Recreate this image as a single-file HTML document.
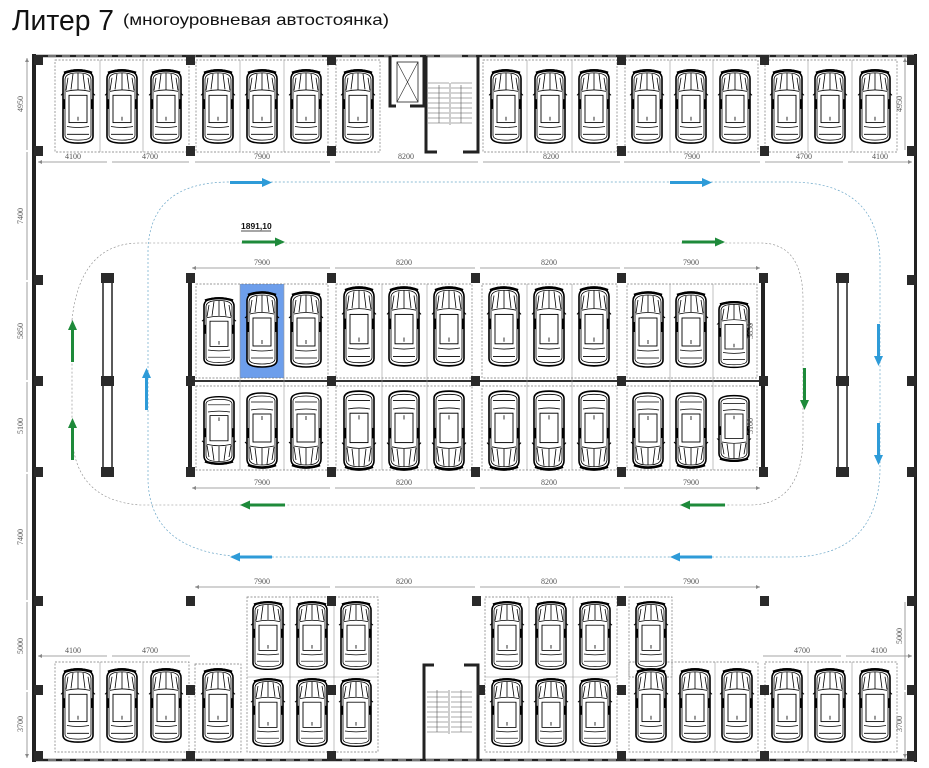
<!DOCTYPE html>
<html><head><meta charset="utf-8"><style>
html,body{margin:0;padding:0;background:#fff;}
svg{display:block;font-family:"Liberation Serif",serif;}
.d{font-size:8px;fill:#555;text-anchor:middle;}
.dl{stroke:#888;stroke-width:0.8;fill:none;}
.cell{fill:none;stroke:#777;stroke-width:0.7;stroke-dasharray:2 1.5;}
.sep{stroke:#999;stroke-width:0.6;}
.col{fill:#2a2a2a;}
</style></head><body>
<svg width="929" height="768" viewBox="0 0 929 768" xmlns="http://www.w3.org/2000/svg">
<defs>
<symbol id="car" viewBox="-16 -40 32 80" overflow="visible" preserveAspectRatio="none">
 <path d="M-15,-29 Q-15,-38 0,-38 Q15,-38 15,-29 L15,30 Q15,37 0,37 Q-15,37 -15,30 Z" fill="#fff" stroke="#000" stroke-width="1.6"/>
 <path d="M-13,-28 Q-13,-35 0,-35 Q13,-35 13,-28 L13,29 Q13,34 0,34 Q-13,34 -13,29 Z" fill="none" stroke="#000" stroke-width="0.8"/>
 <path d="M-14,-35 Q0,-40 14,-35" fill="none" stroke="#000" stroke-width="2.6"/>
 <path d="M-12,-16 Q0,-19 12,-16 M-5,-34 L-7,-18 M5,-34 L7,-18 M0,-35 L0,-18 M-10,-30 L-12,-17 M10,-30 L12,-17" fill="none" stroke="#000" stroke-width="0.8"/>
 <rect x="-9" y="-12" width="18" height="28" fill="none" stroke="#000" stroke-width="0.9"/>
 <path d="M-11,20 Q0,22 11,20 M-11,28 L11,28 M0,10 L0,14" fill="none" stroke="#000" stroke-width="0.8"/>
 <path d="M-15,-14 L-17,-12 M15,-14 L17,-12" stroke="#000" stroke-width="1"/>
 <rect x="-15" y="-8" width="2" height="10" fill="#000"/><rect x="13" y="-8" width="2" height="10" fill="#000"/>
</symbol>
<marker id="ah" viewBox="0 0 6 6" refX="6" refY="3" markerWidth="5" markerHeight="5" orient="auto-start-reverse"><path d="M0,0 L6,3 L0,6 Z" fill="#888"/></marker>
</defs>

<!-- title -->
<text x="12" y="30" font-family="Liberation Sans Narrow, Liberation Sans, sans-serif" font-size="29" textLength="102" lengthAdjust="spacingAndGlyphs" fill="#111">Литер 7</text>
<text x="123" y="25" font-family="Liberation Sans Narrow, Liberation Sans, sans-serif" font-size="16" textLength="266" lengthAdjust="spacingAndGlyphs" fill="#111">(многоуровневая автостоянка)</text>

<!-- outer walls -->
<rect x="32" y="54" width="4" height="708" fill="#222"/>
<rect x="914" y="54" width="3" height="708" fill="#222"/>
<line x1="34" y1="56" x2="916" y2="56" stroke="#222" stroke-width="2.5"/>
<line x1="34" y1="56" x2="916" y2="56" stroke="#fff" stroke-width="0.8" stroke-dasharray="8 6"/>
<line x1="34" y1="760" x2="916" y2="760" stroke="#222" stroke-width="2.5"/>
<line x1="34" y1="760" x2="916" y2="760" stroke="#fff" stroke-width="0.8" stroke-dasharray="8 6"/>

<!-- top row cells -->
<g>
<rect class="cell" x="55" y="60" width="134" height="92"/>
<line class="sep" x1="100" y1="60" x2="100" y2="152"/><line class="sep" x1="143" y1="60" x2="143" y2="152"/>
<rect class="cell" x="196" y="60" width="132" height="92"/>
<line class="sep" x1="240" y1="60" x2="240" y2="152"/><line class="sep" x1="284" y1="60" x2="284" y2="152"/>
<rect class="cell" x="336" y="60" width="44" height="92"/>
<rect class="cell" x="483" y="60" width="134" height="92"/>
<line class="sep" x1="527" y1="60" x2="527" y2="152"/><line class="sep" x1="572" y1="60" x2="572" y2="152"/>
<rect class="cell" x="625" y="60" width="133" height="92"/>
<line class="sep" x1="670" y1="60" x2="670" y2="152"/><line class="sep" x1="713" y1="60" x2="713" y2="152"/>
<rect class="cell" x="765" y="60" width="132" height="92"/>
<line class="sep" x1="808" y1="60" x2="808" y2="152"/><line class="sep" x1="852" y1="60" x2="852" y2="152"/>
</g>
<g>
<use href="#car" x="62" y="68" width="32" height="78"/><use href="#car" x="106" y="68" width="32" height="78"/><use href="#car" x="150" y="68" width="32" height="78"/>
<use href="#car" x="202" y="68" width="32" height="78"/><use href="#car" x="246" y="68" width="32" height="78"/><use href="#car" x="290" y="68" width="32" height="78"/>
<use href="#car" x="342" y="68" width="32" height="78"/>
<use href="#car" x="490" y="68" width="32" height="78"/><use href="#car" x="534" y="68" width="32" height="78"/><use href="#car" x="578" y="68" width="32" height="78"/>
<use href="#car" x="631" y="68" width="32" height="78"/><use href="#car" x="675" y="68" width="32" height="78"/><use href="#car" x="719" y="68" width="32" height="78"/>
<use href="#car" x="771" y="68" width="32" height="78"/><use href="#car" x="814" y="68" width="32" height="78"/><use href="#car" x="859" y="68" width="32" height="78"/>
</g>

<!-- elevator + stairs top -->
<g stroke="#222" fill="none">
<path d="M390,56 L390,106 L396,106 M410,106 L424,106 L424,56" stroke-width="3"/>
<rect x="397" y="62" width="21" height="40" stroke-width="0.8"/>
<path d="M397,62 L418,102 M418,62 L397,102" stroke-width="0.6"/>
<path d="M426,56 L426,152 L437,152 M463,152 L478,152 L478,56" stroke-width="3"/>
<line x1="440" y1="56" x2="462" y2="56" stroke="#aaa" stroke-width="3"/>
<g stroke-width="0.6" stroke="#555">
<path d="M428,83 L449,83 M428,88 L449,88 M428,93 L449,93 M428,98 L449,98 M428,103 L449,103 M428,108 L449,108 M428,113 L449,113 M428,118 L449,118 M428,123 L449,123"/>
<path d="M451,83 L472,83 M451,88 L472,88 M451,93 L472,93 M451,98 L472,98 M451,103 L472,103 M451,108 L472,108 M451,113 L472,113 M451,118 L472,118 M451,123 L472,123"/>
<path d="M450,83 L450,125 M439,85 L439,123 M461,85 L461,123"/>
</g>
</g>

<!-- middle block -->
<g>
<rect x="188" y="276" width="4" height="200" fill="#222"/>
<rect x="761" y="276" width="4" height="200" fill="#222"/>
<line x1="190" y1="381" x2="763" y2="381" stroke="#333" stroke-width="2"/>
<rect class="cell" x="240" y="284" width="44" height="94" style="fill:#6d9eeb;stroke:none"/>
<rect class="cell" x="196" y="284" width="132" height="94"/>
<rect class="cell" x="336" y="284" width="136" height="94"/>
<rect class="cell" x="482" y="284" width="135" height="94"/>
<rect class="cell" x="627" y="284" width="130" height="94"/>
<rect class="cell" x="196" y="386" width="132" height="84"/>
<rect class="cell" x="336" y="386" width="136" height="84"/>
<rect class="cell" x="482" y="386" width="135" height="84"/>
<rect class="cell" x="627" y="386" width="130" height="84"/>
<path class="sep" d="M240,284 V470 M284,284 V470 M382,284 V470 M427,284 V470 M527,284 V470 M572,284 V470 M670,284 V470 M713,284 V470"/>
</g>
<g>
<use href="#car" x="203" y="296" width="32" height="72"/><use href="#car" x="246" y="290" width="32" height="80"/><use href="#car" x="290" y="290" width="32" height="80"/>
<use href="#car" x="343" y="285" width="32" height="84"/><use href="#car" x="388" y="285" width="32" height="84"/><use href="#car" x="433" y="285" width="32" height="84"/>
<use href="#car" x="488" y="285" width="32" height="84"/><use href="#car" x="533" y="285" width="32" height="84"/><use href="#car" x="578" y="285" width="32" height="84"/>
<use href="#car" x="632" y="290" width="32" height="80"/><use href="#car" x="675" y="290" width="32" height="80"/><use href="#car" x="718" y="300" width="32" height="70"/>
<g transform="translate(0,858) scale(1,-1)">
<use href="#car" x="203" y="392" width="32" height="72"/><use href="#car" x="246" y="388" width="32" height="80"/><use href="#car" x="290" y="388" width="32" height="80"/>
<use href="#car" x="343" y="386" width="32" height="84"/><use href="#car" x="388" y="386" width="32" height="84"/><use href="#car" x="433" y="386" width="32" height="84"/>
<use href="#car" x="488" y="386" width="32" height="84"/><use href="#car" x="533" y="386" width="32" height="84"/><use href="#car" x="578" y="386" width="32" height="84"/>
<use href="#car" x="632" y="388" width="32" height="80"/><use href="#car" x="675" y="388" width="32" height="80"/><use href="#car" x="718" y="395" width="32" height="70"/>
</g>
</g>

<!-- side bars -->
<rect x="103" y="280" width="9" height="192" fill="#fff" stroke="#222" stroke-width="1.5"/>
<rect x="838" y="280" width="9" height="192" fill="#fff" stroke="#222" stroke-width="1.5"/>

<!-- bottom area cells -->
<g>
<rect class="cell" x="247" y="597" width="131" height="155"/>
<line class="sep" x1="247" y1="677" x2="378" y2="677"/>
<rect class="cell" x="485" y="597" width="132" height="155"/>
<line class="sep" x1="485" y1="677" x2="617" y2="677"/>
<rect class="cell" x="629" y="597" width="43" height="80"/>
<rect class="cell" x="629" y="662" width="129" height="90"/>
<rect class="cell" x="55" y="662" width="134" height="90"/>
<rect class="cell" x="195" y="664" width="46" height="88"/>
<rect class="cell" x="765" y="662" width="132" height="90"/>
<path class="sep" d="M290,597 V752 M334,597 V752 M529,597 V752 M573,597 V752 M672,662 V752 M715,662 V752 M100,662 V752 M143,662 V752 M808,662 V752 M852,662 V752"/>
</g>
<g>
<use href="#car" x="252" y="600" width="32" height="72"/><use href="#car" x="296" y="600" width="32" height="72"/><use href="#car" x="340" y="600" width="32" height="72"/>
<use href="#car" x="491" y="600" width="32" height="72"/><use href="#car" x="535" y="600" width="32" height="72"/><use href="#car" x="579" y="600" width="32" height="72"/>
<use href="#car" x="635" y="600" width="32" height="72"/>
<use href="#car" x="252" y="677" width="32" height="72"/><use href="#car" x="296" y="677" width="32" height="72"/><use href="#car" x="340" y="677" width="32" height="72"/>
<use href="#car" x="491" y="677" width="32" height="72"/><use href="#car" x="535" y="677" width="32" height="72"/><use href="#car" x="579" y="677" width="32" height="72"/>
<use href="#car" x="635" y="667" width="32" height="78"/><use href="#car" x="679" y="667" width="32" height="78"/><use href="#car" x="721" y="667" width="32" height="78"/>
<use href="#car" x="62" y="667" width="32" height="78"/><use href="#car" x="106" y="667" width="32" height="78"/><use href="#car" x="150" y="667" width="32" height="78"/><use href="#car" x="202" y="667" width="32" height="78"/>
<use href="#car" x="771" y="667" width="32" height="78"/><use href="#car" x="814" y="667" width="32" height="78"/><use href="#car" x="859" y="667" width="32" height="78"/>
</g>

<!-- bottom stairs -->
<g stroke="#222" fill="none">
<path d="M434,665 L424,665 L424,759 M478,759 L478,665 L464,665" stroke-width="3"/>
<g stroke-width="0.6" stroke="#555">
<path d="M427,692 L448,692 M427,697 L448,697 M427,702 L448,702 M427,707 L448,707 M427,712 L448,712 M427,717 L448,717 M427,722 L448,722 M427,727 L448,727 M427,732 L448,732"/>
<path d="M451,692 L472,692 M451,697 L472,697 M451,702 L472,702 M451,707 L472,707 M451,712 L472,712 M451,717 L472,717 M451,722 L472,722 M451,727 L472,727 M451,732 L472,732"/>
<path d="M449,690 L449,734 M437,690 L437,732 M461,690 L461,732"/>
</g>
</g>
<rect x="477" y="685" width="8" height="10" class="col"/>

<!-- columns -->
<g class="col">
<rect x="34" y="55" width="9" height="10"/><rect x="186" y="55" width="9" height="10"/><rect x="327" y="55" width="9" height="10"/><rect x="617" y="55" width="9" height="10"/><rect x="760" y="55" width="9" height="10"/><rect x="907" y="55" width="9" height="10"/>
<rect x="34" y="146" width="9" height="10"/><rect x="186" y="146" width="9" height="10"/><rect x="327" y="146" width="9" height="10"/><rect x="617" y="146" width="9" height="10"/><rect x="760" y="146" width="9" height="10"/><rect x="907" y="146" width="9" height="10"/>
<rect x="34" y="275" width="9" height="10"/><rect x="101" y="273" width="13" height="10"/><rect x="186" y="273" width="9" height="10"/><rect x="327" y="273" width="9" height="10"/><rect x="471" y="273" width="9" height="10"/><rect x="617" y="273" width="9" height="10"/><rect x="759" y="273" width="9" height="10"/><rect x="836" y="273" width="13" height="10"/><rect x="907" y="275" width="9" height="10"/>
<rect x="34" y="376" width="9" height="10"/><rect x="101" y="376" width="13" height="10"/><rect x="186" y="376" width="9" height="10"/><rect x="327" y="376" width="9" height="10"/><rect x="471" y="376" width="9" height="10"/><rect x="617" y="376" width="9" height="10"/><rect x="759" y="376" width="9" height="10"/><rect x="836" y="376" width="13" height="10"/><rect x="907" y="376" width="9" height="10"/>
<rect x="34" y="467" width="9" height="10"/><rect x="101" y="467" width="13" height="10"/><rect x="186" y="467" width="9" height="10"/><rect x="327" y="467" width="9" height="10"/><rect x="471" y="467" width="9" height="10"/><rect x="617" y="467" width="9" height="10"/><rect x="759" y="467" width="9" height="10"/><rect x="836" y="467" width="13" height="10"/><rect x="907" y="467" width="9" height="10"/>
<rect x="34" y="596" width="9" height="10"/><rect x="186" y="596" width="9" height="10"/><rect x="327" y="596" width="9" height="10"/><rect x="472" y="596" width="9" height="10"/><rect x="617" y="596" width="9" height="10"/><rect x="760" y="596" width="9" height="10"/><rect x="907" y="596" width="9" height="10"/>
<rect x="34" y="685" width="9" height="10"/><rect x="186" y="685" width="9" height="10"/><rect x="327" y="685" width="9" height="10"/><rect x="617" y="685" width="9" height="10"/><rect x="760" y="685" width="9" height="10"/><rect x="907" y="685" width="9" height="10"/>
<rect x="34" y="751" width="9" height="10"/><rect x="186" y="751" width="9" height="10"/><rect x="327" y="751" width="9" height="10"/><rect x="617" y="751" width="9" height="10"/><rect x="760" y="751" width="9" height="10"/><rect x="907" y="751" width="9" height="10"/>
</g>

<!-- traffic loops -->
<path d="M148,480 L148,250 Q150,182 230,182 L790,182 Q878,182 880,260 L880,470 Q878,557 790,557 L250,557 Q150,555 148,480" fill="none" stroke="#6aa6c8" stroke-width="0.7" stroke-dasharray="2 2"/>
<path d="M72,320 Q80,243 140,243 L760,243 Q803,243 803,300 L803,440 Q801,505 750,505 L140,505 Q72,500 72,430 Z" fill="none" stroke="#888" stroke-width="0.6" stroke-dasharray="2 2"/>

<!-- arrows -->
<g>
<path d="M230,181 H262 V178 L272,182.5 L262,187 V184 H230Z" fill="#2e9bd8"/>
<path d="M670,181 H702 V178 L712,182.5 L702,187 V184 H670Z" fill="#2e9bd8"/>
<path d="M242,240.5 H275 V237.5 L285,242 L275,246.5 V243.5 H242Z" fill="#1e8a3a"/>
<path d="M682,240.5 H715 V237.5 L725,242 L715,246.5 V243.5 H682Z" fill="#1e8a3a"/>
<path d="M285,503.5 H250 V500.5 L240,505 L250,509.5 V506.5 H285Z" fill="#1e8a3a"/>
<path d="M725,503.5 H690 V500.5 L680,505 L690,509.5 V506.5 H725Z" fill="#1e8a3a"/>
<path d="M272,555.5 H240 V552.5 L230,557 L240,561.5 V558.5 H272Z" fill="#2e9bd8"/>
<path d="M712,555.5 H680 V552.5 L670,557 L680,561.5 V558.5 H712Z" fill="#2e9bd8"/>
<path d="M71,362 V330 H68 L72.5,320 L77,330 H74 V362Z" fill="#1e8a3a"/>
<path d="M71,460 V428 H68 L72.5,418 L77,428 H74 V460Z" fill="#1e8a3a"/>
<path d="M145,410 V378 H142 L146.5,368 L151,378 H148 V410Z" fill="#2e9bd8"/>
<path d="M877,324 V356 H874 L878.5,366 L883,356 H880 V324Z" fill="#2e9bd8"/>
<path d="M877,423 V455 H874 L878.5,465 L883,455 H880 V423Z" fill="#2e9bd8"/>
<path d="M803,368 V400 H800 L804.5,410 L809,400 H806 V368Z" fill="#1e8a3a"/>
</g>
<text x="241" y="229" font-family="Liberation Sans, sans-serif" font-size="8.5" font-weight="bold" fill="#111">1891,10</text>
<line x1="241" y1="231" x2="271" y2="231" stroke="#111" stroke-width="0.8"/>

<!-- dimensions -->
<g class="dl">
<path d="M38,162 H107 M112,162 H189 M195,162 H330 M335,162 H478 M483,162 H620 M624,162 H760 M765,162 H843 M848,162 H912" marker-start="url(#ah)" marker-end="url(#ah)"/>
<path d="M192,268 H330 M335,268 H475 M480,268 H620 M624,268 H760" marker-start="url(#ah)" marker-end="url(#ah)"/>
<path d="M192,488 H330 M335,488 H475 M480,488 H620 M624,488 H760" marker-start="url(#ah)" marker-end="url(#ah)"/>
<path d="M195,587 H330 M335,587 H475 M480,587 H620 M624,587 H760" marker-start="url(#ah)" marker-end="url(#ah)"/>
<path d="M38,656 H107 M112,656 H190 M763,656 H841 M846,656 H912" marker-start="url(#ah)" marker-end="url(#ah)"/>
<path d="M27,58 V150 M27,152 V280 M27,282 V380 M27,382 V472 M27,474 V600 M27,602 V690 M27,692 V758" marker-start="url(#ah)" marker-end="url(#ah)"/>
<path d="M905,58 V150 M905,602 V690 M905,692 V758" marker-start="url(#ah)" marker-end="url(#ah)"/>
</g>
<g class="d">
<text x="73" y="159">4100</text><text x="150" y="159">4700</text><text x="262" y="159">7900</text><text x="406" y="159">8200</text><text x="551" y="159">8200</text><text x="692" y="159">7900</text><text x="804" y="159">4700</text><text x="880" y="159">4100</text>
<text x="262" y="265">7900</text><text x="404" y="265">8200</text><text x="549" y="265">8200</text><text x="691" y="265">7900</text>
<text x="262" y="485">7900</text><text x="404" y="485">8200</text><text x="549" y="485">8200</text><text x="691" y="485">7900</text>
<text x="262" y="584">7900</text><text x="404" y="584">8200</text><text x="549" y="584">8200</text><text x="691" y="584">7900</text>
<text x="73" y="653">4100</text><text x="150" y="653">4700</text><text x="802" y="653">4700</text><text x="879" y="653">4100</text>
<text transform="translate(23,104) rotate(-90)">4950</text>
<text transform="translate(23,216) rotate(-90)">7400</text>
<text transform="translate(23,331) rotate(-90)">5850</text>
<text transform="translate(23,426) rotate(-90)">5100</text>
<text transform="translate(23,537) rotate(-90)">7400</text>
<text transform="translate(23,646) rotate(-90)">5000</text>
<text transform="translate(23,724) rotate(-90)">3700</text>
<text transform="translate(902,104) rotate(-90)">4950</text>
<text transform="translate(902,636) rotate(-90)">5000</text>
<text transform="translate(902,724) rotate(-90)">3700</text>
<text transform="translate(753,331) rotate(-90)">5850</text>
<text transform="translate(753,426) rotate(-90)">5100</text>
</g>
</svg>
</body></html>
